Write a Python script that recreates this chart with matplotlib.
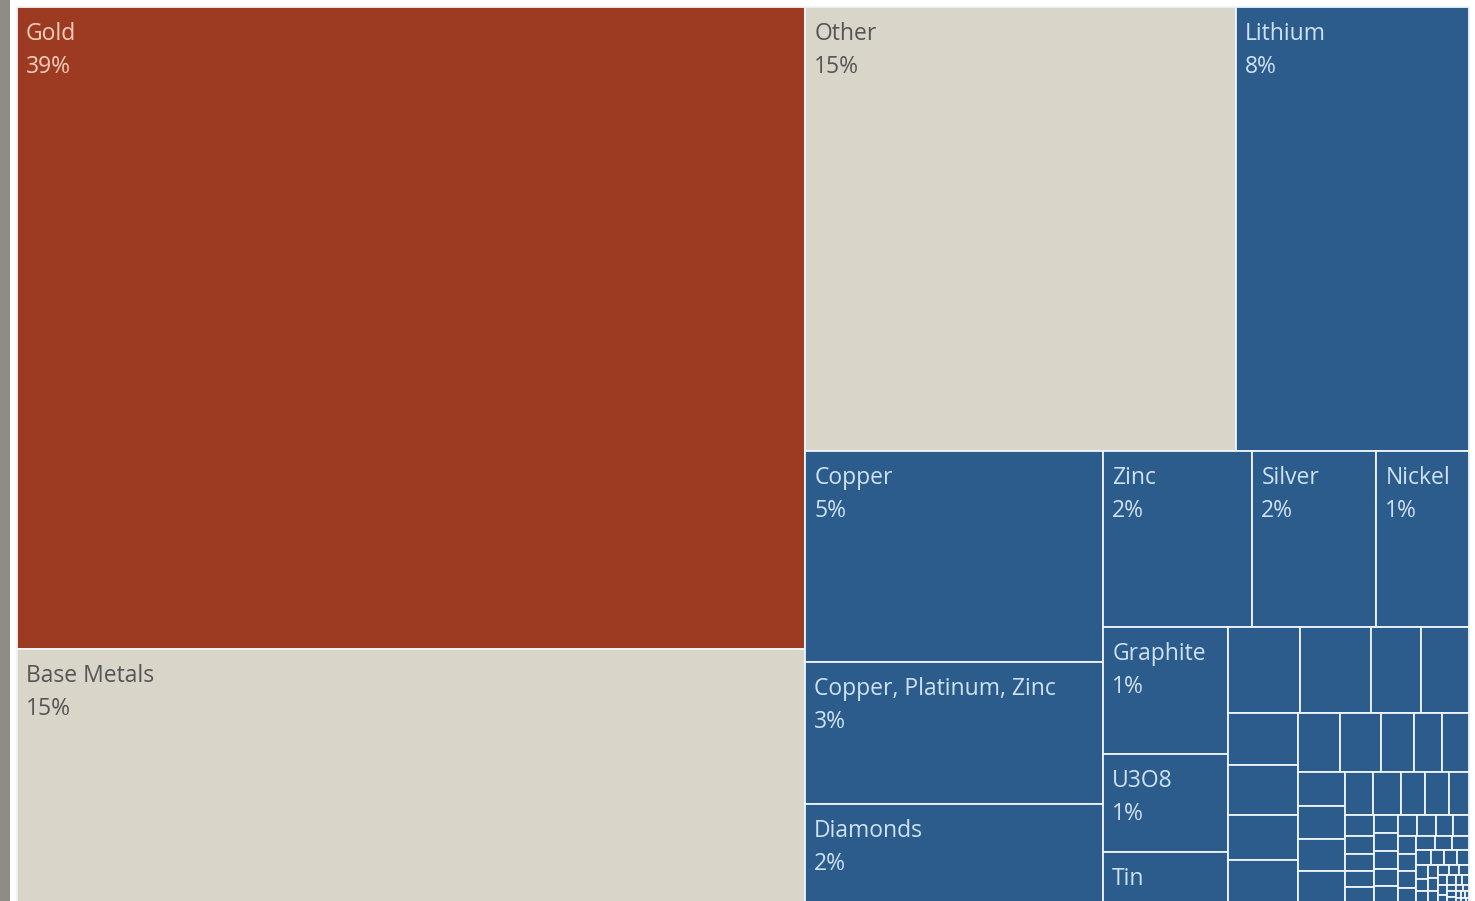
import matplotlib
matplotlib.use("Agg")
import matplotlib.pyplot as plt
from matplotlib.patches import Rectangle

# commodity share of projects, in percent
names = ["Gold", "Base Metals", "Other", "Lithium", "Copper",
         "Copper, Platinum, Zinc", "Diamonds", "Zinc", "Silver", "Nickel",
         "Graphite", "U3O8", "Tin"]
shares = [38.91, 15.36, 14.71, 7.95, 4.82, 3.26, 2.27, 2.01, 1.67, 1.25,
          1.22, 0.93, 0.49]

# the long tail of minor commodities (too small to carry a label)
minor_shares = [0.479, 0.475, 0.335, 0.316,
                0.284, 0.273, 0.241, 0.235,
                0.186, 0.185, 0.150, 0.126, 0.123,
                0.122, 0.120, 0.117, 0.114,
                0.094, 0.092, 0.080, 0.078, 0.067,
                0.048, 0.040, 0.038, 0.036, 0.035,
                0.034, 0.033, 0.032, 0.032, 0.031,
                0.030, 0.029, 0.027, 0.026, 0.025, 0.024, 0.022, 0.021,
                0.020, 0.019, 0.018, 0.017, 0.016, 0.015, 0.014, 0.013,
                0.012, 0.011, 0.010, 0.010, 0.009, 0.009, 0.008, 0.008,
                0.007, 0.007, 0.006, 0.006, 0.005, 0.005, 0.004, 0.004,
                0.004, 0.003, 0.003, 0.003, 0.002, 0.002, 0.002, 0.002,
                0.001]

# how many items go into each strip of the treemap
strip_sizes = [2, 2, 3, 3, 3, 4, 4, 5, 4, 5, 5, 5]

RED = "#9D3B22"
BEIGE = "#D9D5C9"
BLUE = "#2C5C8B"
fill = {"Gold": RED, "Base Metals": BEIGE, "Other": BEIGE}
text_col = {RED: "#F6CDBD", BEIGE: "#555555", BLUE: "#CFE2F3"}


def worst(row, side):
    s = sum(row)
    thick = s / side
    return max(max(thick / (a / thick), (a / thick) / thick) for a in row)


def treemap(values, x, y, w, h, sizes):
    total = sum(values)
    areas = [v / total * w * h for v in values]
    rects = []
    i, k = 0, 0
    while i < len(areas):
        side = min(w, h)
        if k < len(sizes):
            m = sizes[k]
        else:
            m = 1
            while i + m < len(areas) and \
                    worst(areas[i:i + m + 1], side) <= worst(areas[i:i + m], side):
                m += 1
        row = areas[i:i + m]
        thick = sum(row) / side
        pos = 0
        for a in row:
            length = a / thick
            if w >= h:
                rects.append((x, y + pos, thick, length))
            else:
                rects.append((x + pos, y, length, thick))
            pos += length
        if w >= h:
            x += thick
            w -= thick
        else:
            y += thick
            h -= thick
        i += m
        k += 1
    return rects


all_shares = shares + minor_shares
labels = names + [""] * len(minor_shares)
total = sum(all_shares)

W, H = 1475, 901
fig = plt.figure(figsize=(W / 100, H / 100), dpi=100)
ax = fig.add_axes([0, 0, 1, 1])
ax.set_xlim(0, W)
ax.set_ylim(H, 0)
ax.axis("off")

# grey frame strip on the left edge
ax.add_patch(Rectangle((0, 0), 10, H, facecolor="#8F8C86", edgecolor="none"))

rects = treemap(all_shares, 17, 7, 1452, 896, strip_sizes)

fig.canvas.draw()
renderer = fig.canvas.get_renderer()

for (rx, ry, rw, rh), name, v in zip(rects, labels, all_shares):
    color = fill.get(name, BLUE)
    ax.add_patch(Rectangle((rx, ry), rw, rh, facecolor=color,
                           edgecolor="#EEF4FA", linewidth=1.3))
    if not name:
        continue
    pct = f"{int(v / total * 100 + 0.5)}%"
    for j, txt in enumerate([name, pct]):
        ty = ry + 15 + j * 33
        t = ax.text(rx + 9, ty, txt, color=text_col[color], fontsize=16.5,
                    family="Open Sans", va="top", ha="left")
        bb = t.get_window_extent(renderer)
        if bb.width > rw - 12 or ty + 26 > ry + rh:
            t.remove()

fig.savefig("out.png", dpi=100)
